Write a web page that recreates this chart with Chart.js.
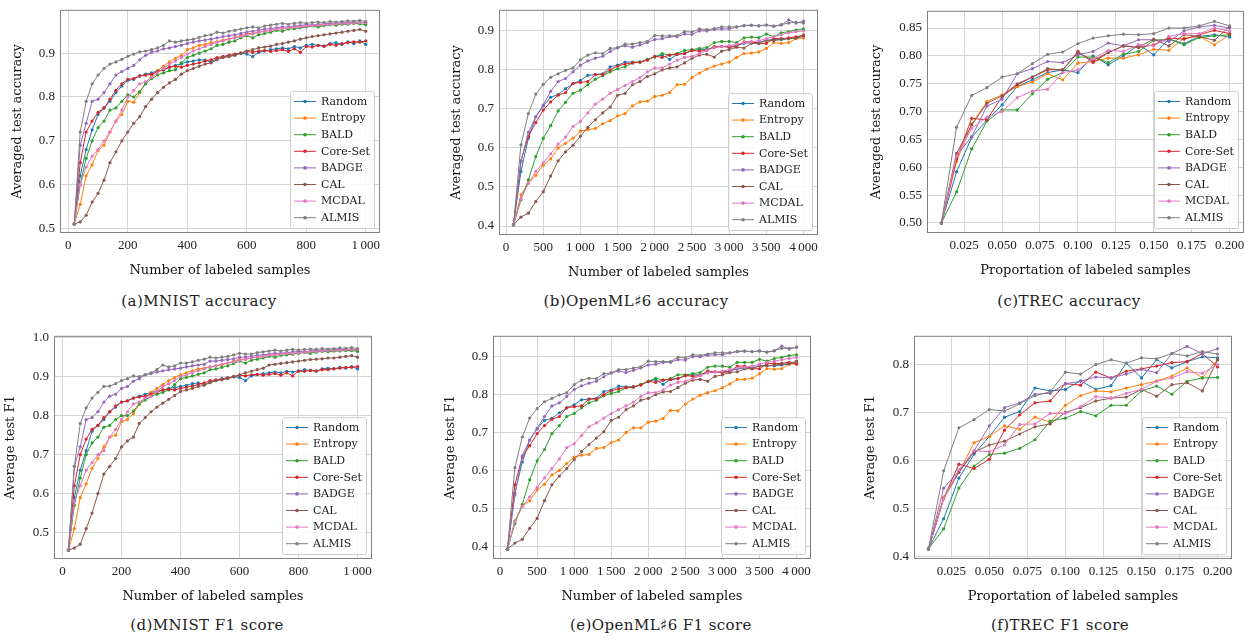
<!DOCTYPE html>
<html>
<head>
<meta charset="utf-8">
<script src="https://cdn.jsdelivr.net/npm/chart.js@4/dist/chart.umd.min.js"></script>
<style>
  body { margin: 0; background: #fff; width: 1252px; height: 640px; position: relative; overflow: hidden; }
  canvas { position: absolute; }
  .cap { position: absolute; transform: translate(-50%, -50%); white-space: nowrap;
         font-family: "DejaVu Serif", serif; font-size: 15px; letter-spacing: 0.4px; color: #222; }
</style>
</head>
<body>
<canvas id="ca"></canvas>
<canvas id="cb"></canvas>
<canvas id="cc"></canvas>
<canvas id="cd"></canvas>
<canvas id="ce"></canvas>
<canvas id="cf"></canvas>
<div class="cap" style="left:199px;top:301px">(a)MNIST accuracy</div>
<div class="cap" style="left:636px;top:301px">(b)OpenML♯6 accuracy</div>
<div class="cap" style="left:1069px;top:301px">(c)TREC accuracy</div>
<div class="cap" style="left:207px;top:625px">(d)MNIST F1 score</div>
<div class="cap" style="left:661px;top:625px">(e)OpenML♯6 F1 score</div>
<div class="cap" style="left:1060px;top:625px">(f)TREC F1 score</div>
<script>
// ---- data ----
const methods = ['Random', 'Entropy', 'BALD', 'Core-Set', 'BADGE', 'CAL', 'MCDAL', 'ALMIS'];
const colors = ['#1f77b4', '#ff7f0e', '#2ca02c', '#d62728', '#9467bd', '#8c564b', '#e377c2', '#7f7f7f'];

const mnistX = [20, 40, 60, 80, 100, 120, 140, 160, 180, 200,
  220, 240, 260, 280, 300, 320, 340, 360, 380, 400,
  420, 440, 460, 480, 500, 520, 540, 560, 580, 600,
  620, 640, 660, 680, 700, 720, 740, 760, 780, 800,
  820, 840, 860, 880, 900, 920, 940, 960, 980, 1000];
const openX = [100, 200, 300, 400, 500, 600, 700, 800, 900, 1000,
  1100, 1200, 1300, 1400, 1500, 1600, 1700, 1800, 1900, 2000,
  2100, 2200, 2300, 2400, 2500, 2600, 2700, 2800, 2900, 3000,
  3100, 3200, 3300, 3400, 3500, 3600, 3700, 3800, 3900, 4000];
const trecX = [0.01, 0.02, 0.03, 0.04, 0.05, 0.06, 0.07, 0.08, 0.09, 0.10,
  0.11, 0.12, 0.13, 0.14, 0.15, 0.16, 0.17, 0.18, 0.19, 0.20];

// rows follow the order of methods
const mnistAcc = [
  [.510,.620,.680,.725,.760,.775,.790,.810,.825,.838, .840,.848,.852,.855,.860,.862,.868,.872,.876,.880,
   .882,.885,.884,.880,.888,.892,.895,.896,.900,.898, .892,.902,.905,.908,.910,.912,.910,.915,.912,.918,
   .920,.918,.916,.922,.924,.920,.926,.922,.928,.920],
  [.510,.555,.620,.645,.678,.690,.720,.745,.760,.790, .788,.810,.832,.848,.860,.870,.880,.888,.895,.908,
   .912,.918,.920,.924,.926,.930,.932,.936,.940,.945, .944,.948,.950,.952,.955,.956,.958,.960,.958,.962,
   .964,.962,.965,.966,.968,.967,.970,.969,.971,.968],
  [.510,.600,.660,.700,.730,.745,.770,.775,.790,.805, .800,.812,.830,.842,.850,.855,.860,.862,.878,.890,
   .895,.900,.905,.910,.918,.920,.925,.928,.935,.940, .935,.942,.945,.948,.952,.950,.955,.956,.958,.960,
   .962,.960,.963,.965,.964,.966,.966,.968,.967,.965],
  [.510,.650,.720,.745,.765,.775,.795,.815,.830,.840, .842,.848,.850,.852,.858,.862,.868,.870,.868,.872,
   .875,.878,.882,.885,.890,.892,.895,.898,.900,.904, .902,.905,.906,.904,.906,.908,.904,.910,.902,.915,
   .914,.918,.916,.920,.918,.922,.924,.926,.925,.928],
  [.510,.690,.740,.790,.795,.810,.830,.850,.858,.865, .872,.885,.895,.902,.905,.910,.912,.915,.918,.922,
   .925,.928,.930,.932,.935,.938,.940,.942,.945,.948, .950,.952,.955,.956,.958,.960,.960,.962,.963,.965,
   .964,.966,.967,.968,.968,.969,.970,.971,.970,.970],
  [.510,.515,.530,.560,.580,.610,.650,.675,.700,.720, .740,.755,.778,.795,.810,.822,.832,.840,.852,.860,
   .865,.870,.875,.878,.885,.890,.892,.895,.900,.905, .908,.912,.914,.916,.920,.922,.925,.928,.932,.935,
   .938,.940,.942,.944,.946,.948,.950,.952,.954,.950],
  [.510,.600,.640,.665,.680,.700,.720,.745,.770,.800, .815,.830,.835,.845,.855,.865,.875,.882,.890,.898,
   .905,.910,.915,.920,.925,.928,.932,.935,.938,.942, .945,.948,.950,.952,.955,.956,.958,.960,.960,.962,
   .963,.964,.965,.966,.967,.968,.968,.969,.970,.970],
  [.510,.720,.790,.830,.850,.865,.875,.880,.886,.893, .898,.903,.905,.908,.912,.918,.928,.925,.928,.930,
   .932,.936,.940,.942,.948,.946,.950,.952,.955,.958, .960,.958,.962,.964,.966,.968,.966,.968,.970,.968,
   .970,.971,.970,.972,.971,.972,.974,.973,.975,.972]
];
const mnistF1 = [
  [.455,.590,.660,.710,.760,.775,.790,.810,.822,.835, .838,.845,.850,.855,.860,.862,.866,.870,.872,.875,
   .878,.882,.884,.880,.885,.890,.895,.897,.900,.898, .890,.902,.905,.908,.910,.912,.910,.914,.912,.915,
   .918,.916,.914,.920,.922,.920,.924,.922,.926,.920],
  [.455,.510,.590,.625,.665,.690,.720,.745,.750,.785, .790,.805,.830,.845,.860,.870,.880,.890,.898,.905,
   .910,.915,.920,.922,.925,.928,.930,.935,.940,.945, .944,.948,.950,.952,.955,.956,.958,.960,.958,.962,
   .964,.962,.965,.966,.967,.966,.968,.968,.970,.966],
  [.455,.570,.640,.700,.730,.745,.770,.775,.790,.800, .800,.812,.830,.840,.850,.855,.860,.866,.880,.895,
   .898,.902,.906,.910,.918,.920,.924,.928,.934,.940, .935,.942,.945,.948,.952,.950,.955,.956,.958,.960,
   .962,.960,.963,.965,.964,.966,.966,.967,.967,.965],
  [.455,.620,.700,.740,.765,.775,.795,.810,.825,.835, .838,.845,.848,.850,.855,.860,.866,.868,.866,.870,
   .873,.876,.880,.884,.890,.892,.894,.897,.900,.904, .902,.905,.906,.904,.906,.908,.904,.910,.902,.914,
   .914,.916,.915,.918,.918,.921,.922,.924,.924,.926],
  [.455,.670,.720,.790,.795,.810,.835,.850,.855,.870, .875,.888,.895,.905,.908,.912,.915,.918,.920,.922,
   .925,.928,.930,.932,.940,.940,.942,.944,.946,.950, .950,.952,.955,.956,.958,.960,.960,.962,.963,.965,
   .964,.966,.967,.968,.968,.969,.970,.970,.970,.970],
  [.455,.460,.470,.510,.550,.600,.650,.670,.690,.720, .735,.745,.780,.795,.810,.822,.832,.842,.852,.862,
   .866,.870,.875,.878,.885,.890,.892,.895,.900,.905, .910,.914,.918,.922,.930,.932,.934,.936,.938,.940,
   .942,.944,.945,.946,.948,.948,.950,.952,.954,.950],
  [.455,.580,.620,.660,.680,.700,.710,.745,.765,.790, .810,.830,.835,.845,.850,.862,.875,.882,.890,.900,
   .905,.910,.915,.920,.925,.928,.932,.935,.938,.942, .945,.948,.950,.952,.955,.956,.958,.960,.960,.962,
   .963,.964,.965,.966,.967,.968,.968,.969,.970,.970],
  [.455,.670,.780,.820,.845,.860,.875,.876,.882,.890, .895,.902,.900,.905,.910,.918,.930,.925,.928,.935,
   .935,.938,.942,.945,.950,.948,.950,.952,.956,.960, .958,.958,.962,.964,.966,.968,.966,.968,.970,.968,
   .970,.971,.970,.972,.971,.972,.974,.973,.975,.972]
];
const openAcc = [
  [.403,.540,.625,.680,.708,.730,.737,.752,.765,.773, .786,.788,.790,.808,.812,.820,.820,.820,.826,.834,
   .838,.827,.840,.842,.850,.852,.852,.858,.860,.860, .862,.868,.870,.870,.876,.878,.878,.880,.882,.885],
  [.403,.480,.510,.530,.556,.572,.600,.612,.625,.643, .647,.650,.662,.670,.682,.688,.708,.718,.720,.732,
   .735,.742,.762,.763,.780,.792,.802,.810,.815,.820, .832,.842,.843,.846,.855,.870,.868,.870,.880,.882],
  [.403,.467,.518,.578,.625,.657,.695,.717,.740,.748, .762,.776,.785,.795,.803,.808,.818,.820,.827,.833,
   .842,.838,.842,.850,.852,.855,.857,.870,.873,.873, .870,.882,.884,.883,.892,.885,.895,.898,.902,.905],
  [.403,.567,.630,.665,.697,.718,.735,.742,.765,.768, .770,.788,.788,.800,.810,.815,.818,.820,.825,.835,
   .832,.838,.840,.842,.850,.848,.850,.860,.860,.858, .860,.872,.872,.868,.868,.880,.880,.882,.885,.888],
  [.403,.565,.640,.680,.710,.745,.770,.778,.795,.812, .823,.830,.835,.847,.857,.862,.858,.864,.870,.878,
   .880,.885,.885,.892,.891,.900,.900,.904,.905,.905, .910,.913,.914,.913,.915,.912,.915,.928,.920,.925],
  [.403,.423,.433,.463,.488,.528,.567,.590,.607,.630, .653,.672,.690,.705,.735,.740,.762,.770,.783,.790,
   .800,.805,.808,.818,.830,.838,.840,.833,.848,.852, .858,.856,.868,.868,.876,.875,.878,.880,.882,.890],
  [.403,.470,.510,.540,.562,.585,.610,.628,.655,.668, .690,.712,.725,.740,.750,.760,.770,.780,.795,.805,
   .805,.815,.825,.832,.835,.842,.850,.857,.860,.862, .866,.870,.872,.875,.880,.885,.890,.895,.898,.900],
  [.403,.608,.688,.738,.763,.781,.790,.799,.805,.826, .838,.844,.842,.855,.857,.866,.866,.870,.873,.888,
   .887,.887,.888,.898,.897,.905,.903,.906,.910,.910, .910,.914,.915,.913,.915,.912,.916,.920,.922,.920]
];
const openF1 = [
  [.392,.540,.622,.680,.710,.732,.737,.752,.765,.773, .786,.788,.790,.808,.812,.822,.820,.820,.826,.834,
   .840,.827,.840,.842,.850,.852,.852,.858,.860,.860, .862,.868,.870,.870,.876,.876,.876,.878,.880,.885],
  [.392,.467,.505,.520,.548,.563,.588,.600,.618,.635, .640,.642,.658,.660,.673,.680,.700,.712,.712,.727,
   .730,.737,.758,.757,.775,.788,.798,.805,.810,.818, .828,.840,.840,.843,.855,.868,.867,.868,.880,.882],
  [.392,.460,.510,.575,.625,.655,.697,.718,.742,.750, .765,.778,.785,.797,.803,.808,.818,.820,.827,.835,
   .843,.838,.842,.852,.852,.855,.858,.872,.875,.875, .872,.885,.885,.885,.893,.888,.895,.898,.903,.905],
  [.392,.562,.635,.665,.697,.718,.735,.742,.765,.768, .770,.788,.788,.800,.810,.815,.818,.820,.825,.835,
   .832,.838,.840,.842,.850,.848,.850,.862,.860,.858, .860,.875,.875,.868,.868,.882,.882,.882,.885,.880],
  [.392,.535,.638,.680,.710,.742,.770,.778,.795,.813, .823,.830,.835,.847,.857,.862,.858,.864,.870,.878,
   .880,.885,.885,.892,.891,.900,.900,.904,.905,.905, .910,.913,.914,.913,.915,.912,.915,.928,.920,.925],
  [.392,.408,.418,.447,.473,.520,.562,.585,.605,.628, .650,.668,.685,.702,.732,.740,.760,.770,.785,.790,
   .800,.807,.808,.818,.830,.838,.840,.835,.848,.852, .858,.860,.868,.868,.876,.876,.878,.880,.882,.888],
  [.392,.465,.505,.530,.555,.580,.605,.630,.660,.670, .692,.715,.725,.738,.750,.760,.770,.780,.795,.805,
   .805,.812,.825,.832,.835,.842,.850,.857,.860,.862, .866,.870,.872,.875,.880,.885,.888,.892,.895,.898],
  [.392,.607,.688,.738,.763,.781,.790,.799,.805,.826, .838,.843,.842,.855,.857,.866,.866,.870,.873,.888,
   .887,.887,.887,.898,.897,.905,.903,.907,.910,.910, .910,.914,.915,.913,.915,.912,.916,.922,.922,.925]
];
const trecAcc = [
  [.500,.592,.654,.685,.712,.745,.757,.770,.775,.770, .800,.784,.800,.820,.802,.830,.822,.835,.838,.834],
  [.500,.610,.678,.718,.730,.745,.753,.768,.757,.787, .790,.796,.796,.802,.812,.810,.832,.835,.820,.838],
  [.500,.556,.633,.683,.703,.703,.732,.758,.770,.798, .798,.788,.803,.808,.828,.830,.820,.833,.836,.838],
  [.500,.615,.688,.685,.727,.748,.762,.775,.775,.808, .788,.806,.818,.815,.820,.832,.830,.838,.846,.840],
  [.500,.622,.655,.710,.722,.768,.777,.790,.788,.802, .808,.823,.818,.829,.829,.826,.845,.852,.855,.850],
  [.500,.625,.676,.715,.728,.750,.762,.777,.775,.806, .792,.806,.818,.816,.830,.818,.838,.835,.828,.853],
  [.500,.620,.670,.690,.700,.725,.737,.740,.770,.775, .795,.810,.808,.820,.818,.835,.840,.840,.850,.845],
  [.500,.672,.729,.743,.762,.768,.786,.803,.807,.822, .832,.836,.839,.838,.840,.850,.850,.854,.862,.854]
];
const trecF1 = [
  [.415,.478,.563,.613,.650,.690,.702,.751,.745,.748, .766,.748,.756,.803,.772,.810,.793,.806,.816,.814],
  [.415,.523,.575,.637,.650,.672,.665,.690,.680,.715, .735,.745,.743,.751,.758,.766,.776,.793,.772,.810],
  [.415,.457,.542,.588,.612,.615,.625,.643,.682,.688, .702,.693,.715,.715,.745,.755,.738,.765,.772,.773],
  [.415,.520,.592,.583,.602,.663,.695,.720,.724,.760, .757,.784,.772,.786,.791,.797,.804,.806,.823,.795],
  [.415,.542,.578,.620,.672,.710,.720,.738,.740,.760, .765,.774,.772,.780,.790,.783,.823,.838,.823,.833],
  [.415,.520,.575,.617,.632,.640,.655,.670,.676,.700, .710,.724,.730,.732,.748,.734,.758,.762,.745,.810],
  [.415,.520,.580,.620,.618,.632,.675,.676,.698,.698, .712,.733,.730,.740,.748,.765,.772,.785,.782,.800],
  [.415,.578,.668,.685,.706,.703,.718,.735,.743,.784, .780,.800,.810,.803,.814,.812,.823,.818,.827,.822]
];

// tick values
const mnistXTicks = [0, 200, 400, 600, 800, 1000];
const openXTicks = [0, 500, 1000, 1500, 2000, 2500, 3000, 3500, 4000];
const trecXTicks = [0.025, 0.05, 0.075, 0.1, 0.125, 0.15, 0.175, 0.2];
const mnistAccYTicks = [0.5, 0.6, 0.7, 0.8, 0.9];
const mnistF1YTicks = [0.5, 0.6, 0.7, 0.8, 0.9, 1.0];
const openYTicks = [0.4, 0.5, 0.6, 0.7, 0.8, 0.9];
const trecAccYTicks = [0.5, 0.55, 0.6, 0.65, 0.7, 0.75, 0.8, 0.85];
const trecF1YTicks = [0.4, 0.5, 0.6, 0.7, 0.8];

// ---- drawing ----
const TITLE_FONT = {family: '"DejaVu Serif"', size: 13};
const TICK_FONT = {family: '"Liberation Serif"', size: 13};

// thin space in thousands, like the original
const fmtInt = v => v >= 1000 ? String(v).replace(/(\d)(\d{3})$/, '$1\u2009$2') : String(v);

// frame + legend box in the lower right of the plot area
const frameLegend = {
  id: 'frameLegend',
  afterDatasetsDraw(chart) {
    const {ctx, chartArea: a} = chart;
    ctx.save();
    ctx.strokeStyle = '#808080';
    ctx.lineWidth = 1;
    ctx.strokeRect(a.left + 0.5, a.top + 0.5, a.right - a.left - 1, a.bottom - a.top - 1);

    const sets = chart.data.datasets;
    ctx.font = '11px "DejaVu Serif"';
    let maxW = 0;
    sets.forEach(d => { maxW = Math.max(maxW, ctx.measureText(d.label).width); });
    const rowH = 16.6, w = 4 + 22 + 5 + maxW + 4, h = rowH * sets.length + 4;
    const x0 = a.right - 6 - w, y0 = a.bottom - 5 - h;
    ctx.fillStyle = 'rgba(255,255,255,0.85)';
    ctx.strokeStyle = '#cccccc';
    ctx.beginPath();
    ctx.roundRect(x0 + 0.5, y0 + 0.5, w, h, 2);
    ctx.fill();
    ctx.stroke();
    sets.forEach((d, i) => {
      const cy = y0 + 2 + rowH * (i + 0.5);
      ctx.strokeStyle = d.borderColor;
      ctx.beginPath();
      ctx.moveTo(x0 + 4, cy);
      ctx.lineTo(x0 + 26, cy);
      ctx.stroke();
      ctx.fillStyle = d.borderColor;
      ctx.beginPath();
      ctx.arc(x0 + 15, cy, 1.8, 0, Math.PI * 2);
      ctx.fill();
      ctx.fillStyle = '#1a1a1a';
      ctx.textBaseline = 'middle';
      ctx.fillText(d.label, x0 + 31, cy + 0.5);
    });
    ctx.restore();
  }
};

function makePanel(id, p) {
  const [L, T, R, B] = p.frame;
  const W = p.yTitleOff + 8, H = 45, padT = 8, padR = 6;
  const canvas = document.getElementById(id);
  canvas.width = W + (R - L) + padR;
  canvas.height = padT + (B - T) + H;
  canvas.style.left = (L - W) + 'px';
  canvas.style.top = (T - padT) + 'px';

  new Chart(canvas, {
    type: 'line',
    data: {
      datasets: methods.map((m, i) => ({
        label: m,
        data: p.xs.map((x, j) => ({x: x, y: p.ys[i][j]})),
        borderColor: colors[i],
        backgroundColor: colors[i],
        borderWidth: 1,
        pointRadius: 1.6,
        pointBorderWidth: 0,
        pointHoverRadius: 0,
        tension: 0,
        order: methods.length - i   // later methods drawn on top
      }))
    },
    options: {
      responsive: false,
      animation: false,
      events: [],
      layout: {padding: {top: padT, right: padR, left: 0, bottom: 0}},
      plugins: {legend: {display: false}, tooltip: {enabled: false}},
      scales: {
        x: {
          type: 'linear', min: p.xMin, max: p.xMax,
          afterFit: s => { s.height = H; },
          afterBuildTicks: s => { s.ticks = p.xTicks.map(v => ({value: v})); },
          ticks: {font: TICK_FONT, color: '#222', padding: 5, maxRotation: 0, autoSkip: false,
                  callback: p.xFmt},
          grid: {color: '#d4d4d4', drawTicks: false},
          border: {display: false},
          title: {display: true, text: p.xTitle, font: TITLE_FONT, color: '#111', padding: 0}
        },
        y: {
          type: 'linear', min: p.yMin, max: p.yMax,
          afterFit: s => { s.width = W; },
          afterBuildTicks: s => { s.ticks = p.yTicks.map(v => ({value: v})); },
          ticks: {font: TICK_FONT, color: '#222', padding: 5, autoSkip: false,
                  callback: v => v.toFixed(p.yDec)},
          grid: {color: '#d4d4d4', drawTicks: false},
          border: {display: false},
          title: {display: true, text: p.yTitle, font: TITLE_FONT, color: '#111', padding: 0}
        }
      }
    },
    plugins: [frameLegend]
  });
}

const numTitle = 'Number of labeled samples';
const propTitle = 'Proportation of labeled samples';
const fmt3 = v => v.toFixed(3);

makePanel('ca', {frame: [60, 5, 380, 233], yTitleOff: 42, xs: mnistX, ys: mnistAcc,
  xMin: -28, xMax: 1048, yMin: 0.4895, yMax: 0.999, xTicks: mnistXTicks, yTicks: mnistAccYTicks,
  xFmt: fmtInt, yDec: 1, xTitle: numTitle, yTitle: 'Averaged test accuracy'});
makePanel('cb', {frame: [499, 5, 818, 235], yTitleOff: 42, xs: openX, ys: openAcc,
  xMin: -95, xMax: 4195, yMin: 0.377, yMax: 0.954, xTicks: openXTicks, yTicks: openYTicks,
  xFmt: fmtInt, yDec: 1, xTitle: numTitle, yTitle: 'Averaged test accuracy'});
makePanel('cc', {frame: [927, 6, 1244, 233], yTitleOff: 50, xs: trecX, ys: trecAcc,
  xMin: 0.0005, xMax: 0.2095, yMin: 0.482, yMax: 0.881, xTicks: trecXTicks, yTicks: trecAccYTicks,
  xFmt: fmt3, yDec: 2, xTitle: propTitle, yTitle: 'Averaged test accuracy'});
makePanel('cd', {frame: [54, 331, 372, 559], yTitleOff: 43, xs: mnistX, ys: mnistF1,
  xMin: -29, xMax: 1049, yMin: 0.432, yMax: 1.005, xTicks: mnistXTicks, yTicks: mnistF1YTicks,
  xFmt: fmtInt, yDec: 1, xTitle: numTitle, yTitle: 'Average test F1'});
makePanel('ce', {frame: [493, 331, 811, 559], yTitleOff: 42, xs: openX, ys: openF1,
  xMin: -95, xMax: 4195, yMin: 0.366, yMax: 0.955, xTicks: openXTicks, yTicks: openYTicks,
  xFmt: fmtInt, yDec: 1, xTitle: numTitle, yTitle: 'Average test F1'});
makePanel('cf', {frame: [914, 331, 1232, 559], yTitleOff: 43, xs: trecX, ys: trecF1,
  xMin: 0.0005, xMax: 0.2095, yMin: 0.394, yMax: 0.86, xTicks: trecXTicks, yTicks: trecF1YTicks,
  xFmt: fmt3, yDec: 1, xTitle: propTitle, yTitle: 'Average test F1'});
</script>
</body>
</html>
